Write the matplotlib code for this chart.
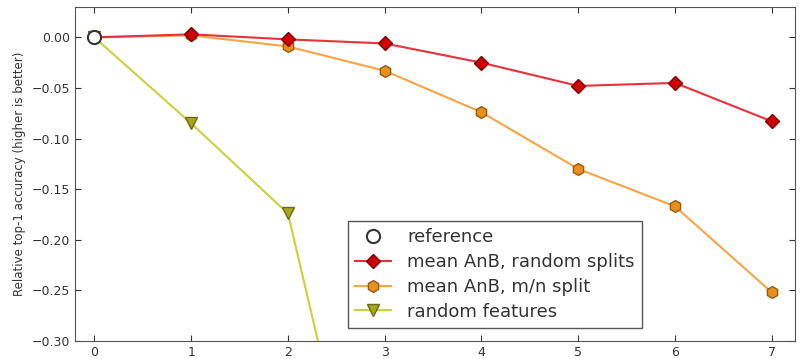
import matplotlib
matplotlib.use('Agg')
import matplotlib.pyplot as plt

ref_x = [0]
ref_y = [0.0]

layers = [0, 1, 2, 3, 4, 5, 6, 7]
anb_random = [0.0, 0.003, -0.002, -0.006, -0.025, -0.048, -0.045, -0.083]
anb_mn = [0.0, 0.002, -0.009, -0.033, -0.074, -0.130, -0.167, -0.252]

rand_x = [0, 1, 2, 3]
rand_feat = [0.0, -0.085, -0.174, -0.58]

fig = plt.figure(figsize=(8, 3.59), dpi=100)
ax = fig.add_axes([75/800, 18/359, 720/800, 334/359])

ax.plot(rand_x, rand_feat, '-', color='#c8d23c', lw=1.5, marker='v', ms=8.5,
        mfc='#a8a81e', mec='#6a6a10', label='random features', zorder=2)
ax.plot(layers, anb_mn, '-', color='#f5a547', lw=1.5, marker='h', ms=8.5,
        mfc='#e8901c', mec='#9a5a10', label='mean AnB, m/n split', zorder=3)
ax.plot(layers, anb_random, '-', color='#e8313c', lw=1.5, marker='D', ms=7.5,
        mfc='#d00000', mec='#800000', label='mean AnB, random splits', zorder=4)
ax.plot(ref_x, ref_y, 'o', ms=9.5, mfc='white', mec='#333333', mew=1.5,
        label='reference', zorder=5)

ax.set_xlim(-0.2, 7.24)
ax.set_ylim(-0.30, 0.03)
ax.set_xticks(layers)
ax.set_yticks([0.0, -0.05, -0.10, -0.15, -0.20, -0.25, -0.30])
ax.set_yticklabels(['0.00', '\u22120.05', '\u22120.10', '\u22120.15', '\u22120.20', '\u22120.25', '\u22120.30'])
ax.tick_params(direction='in', top=True, right=True, labelsize=9, colors='#333333', length=4)
for s in ax.spines.values():
    s.set_color('#555555')
ax.set_ylabel('Relative top-1 accuracy (higher is better)', fontsize=8.5, color='#333333')

handles, labels = ax.get_legend_handles_labels()
order = [3, 2, 1, 0]
leg = ax.legend([handles[i] for i in order], [labels[i] for i in order],
                loc='lower left', bbox_to_anchor=(0.379, 0.039), borderaxespad=0,
                fontsize=13, labelspacing=0.38, borderpad=0.4, handletextpad=0.9,
                fancybox=False, framealpha=1, edgecolor='#555555', handlelength=2.0)
for t in leg.get_texts():
    t.set_color('#333333')

fig.savefig('out.png', dpi=100)
